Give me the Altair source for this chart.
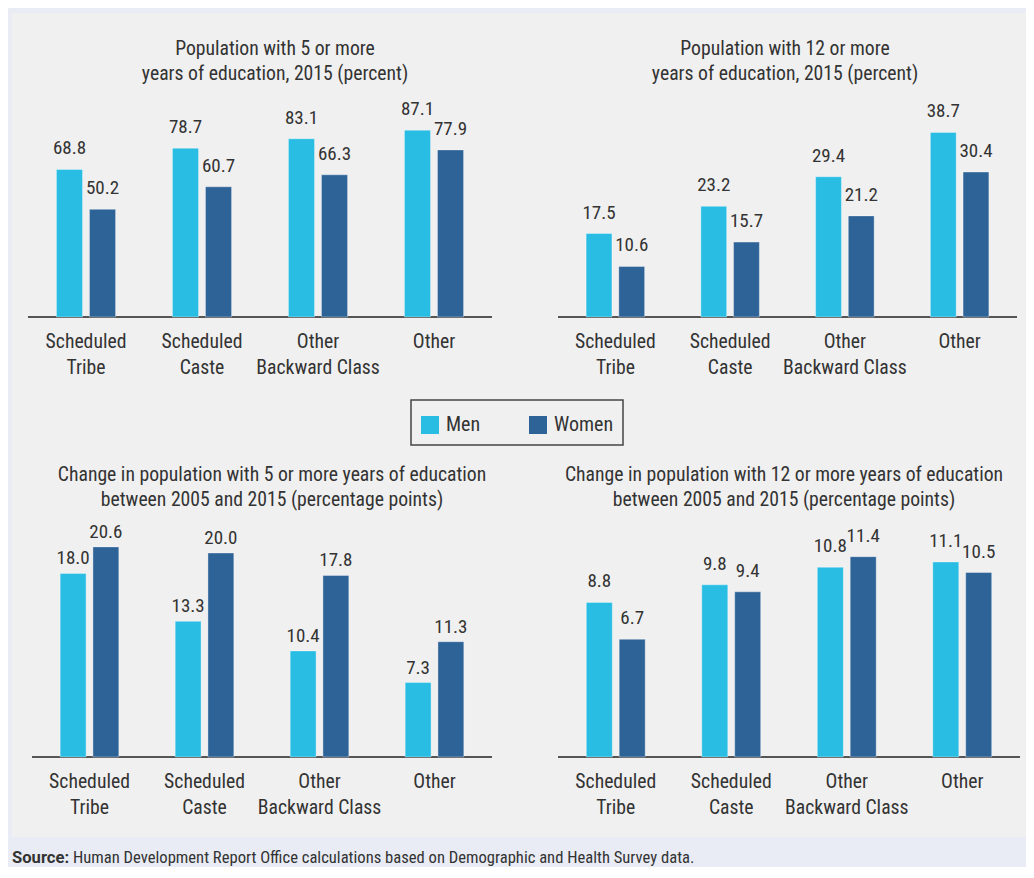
import altair as alt
import pandas as pd

# ---------------- data ----------------
categories = ["Scheduled Tribe", "Scheduled Caste", "Other Backward Class", "Other"]
cat_labels = ["Scheduled\nTribe", "Scheduled\nCaste", "Other\nBackward Class", "Other"]
genders = ["Men", "Women"]

men_5yr = [68.8, 78.7, 83.1, 87.1]
women_5yr = [50.2, 60.7, 66.3, 77.9]
men_12yr = [17.5, 23.2, 29.4, 38.7]
women_12yr = [10.6, 15.7, 21.2, 30.4]
men_chg5 = [18.0, 13.3, 10.4, 7.3]
women_chg5 = [20.6, 20.0, 17.8, 11.3]
men_chg12 = [8.8, 9.8, 10.8, 11.1]
women_chg12 = [6.7, 9.4, 11.4, 10.5]

titles = [
    "Population with 5 or more\nyears of education, 2015 (percent)",
    "Population with 12 or more\nyears of education, 2015 (percent)",
    "Change in population with 5 or more years of education\nbetween 2005 and 2015 (percentage points)",
    "Change in population with 12 or more years of education\nbetween 2005 and 2015 (percentage points)",
]
source_bold = "Source:"
source_text = "Human Development Report Office calculations based on Demographic and Health Survey data."

# ---------------- style ----------------
FONT = "Roboto Condensed, Liberation Sans Narrow, DejaVu Sans Condensed, sans-serif"
TXT = "#333333"
PAGE_BG = "#e9ecf4"
PANEL_BG = "#f0f0f0"
MEN_C = "#29bde3"
WOMEN_C = "#2e6398"
FS = 19.7

color_scale = alt.Scale(domain=genders, range=[MEN_C, WOMEN_C])
one = pd.DataFrame({"k": [0]})


def panel(men, women, title, W, H, xr, base, ymax, pxu, dy, tx, ty):
    df = pd.DataFrame({
        "category": categories * 2,
        "gender": ["Men"] * 4 + ["Women"] * 4,
        "value": men + women,
    })
    lab = pd.DataFrame({"category": categories, "label": cat_labels})
    xs = alt.Scale(domain=categories, range=xr, paddingInner=0, paddingOuter=0)
    ys = alt.Scale(domain=[0, ymax], range=[base, base - ymax * pxu], nice=False)
    xo = alt.XOffset("gender:N", sort=genders,
                     scale=alt.Scale(domain=genders, paddingInner=0.21, paddingOuter=0.86))

    bg = alt.Chart(one).mark_rect(color=PANEL_BG).encode(
        x=alt.value(0), x2=alt.value(W), y=alt.value(0), y2=alt.value(H))
    bars = alt.Chart(df).mark_bar(stroke="#ffffff", strokeOpacity=0.35, strokeWidth=1).encode(
        x=alt.X("category:N", sort=categories, scale=xs, axis=None),
        xOffset=xo,
        y=alt.Y("value:Q", scale=ys, axis=None),
        color=alt.Color("gender:N", scale=color_scale, legend=None),
    )
    vals = alt.Chart(df).mark_text(
        baseline="alphabetic", align="center", dy=-dy, font=FONT, fontSize=19, color=TXT
    ).encode(
        x=alt.X("category:N", sort=categories, scale=xs, axis=None),
        xOffset=xo,
        y=alt.Y("value:Q", scale=ys, axis=None),
        text=alt.Text("value:Q", format=".1f"),
    )
    rule = alt.Chart(one).mark_rule(color="#555555", strokeWidth=2).encode(
        x=alt.value(xr[0]), x2=alt.value(xr[1]), y=alt.value(base))
    cats = alt.Chart(lab).mark_text(
        baseline="alphabetic", align="center", lineBreak="\n", lineHeight=26,
        font=FONT, fontSize=FS, color=TXT
    ).encode(
        x=alt.X("category:N", sort=categories, scale=xs, axis=None),
        y=alt.value(base + 31),
        text="label:N",
    )
    ttl = alt.Chart(one).mark_text(
        baseline="alphabetic", align="center", lineBreak="\n", lineHeight=25,
        font=FONT, fontSize=FS, color=TXT
    ).encode(x=alt.value(tx), y=alt.value(ty), text=alt.value(title))
    return alt.layer(bg, rule, bars, vals, cats, ttl).properties(width=W, height=H)


LEFT_W, RIGHT_W, ROW_H = 508, 506, 382
tl = panel(men_5yr, women_5yr, titles[0], LEFT_W, ROW_H, [16, 480], 304, 100, 2.145, 15, 263, 42)
tr = panel(men_12yr, women_12yr, titles[1], RIGHT_W, ROW_H, [38, 497], 304, 40, 4.77, 15, 265, 42)
bl = panel(men_chg5, women_chg5, titles[2], LEFT_W, ROW_H, [20, 480], 302, 25, 10.2, 9, 260, 26)
br = panel(men_chg12, women_chg12, titles[3], RIGHT_W, ROW_H, [38, 500], 302, 12, 17.57, 15, 264, 26)

res = dict(x="independent", y="independent", xOffset="independent")
top = alt.hconcat(tl, tr, spacing=0, bounds="flush").resolve_scale(**res)
bottom = alt.hconcat(bl, br, spacing=0, bounds="flush").resolve_scale(**res)

# ---------------- legend row ----------------
leg_df = pd.DataFrame({"gender": genders})
LW, LH = LEFT_W + RIGHT_W, 60
leg_bg = alt.Chart(one).mark_rect(color=PANEL_BG).encode(
    x=alt.value(0), x2=alt.value(LW), y=alt.value(0), y2=alt.value(LH))
leg_box = alt.Chart(one).mark_rect(fillOpacity=0, stroke="#444444", strokeWidth=1.5).encode(
    x=alt.value(399), x2=alt.value(611), y=alt.value(5), y2=alt.value(50))
lx = alt.X("gender:N", sort=genders,
           scale=alt.Scale(type="point", domain=genders, range=[418, 526], padding=0), axis=None)
leg_sq = alt.Chart(leg_df).mark_square(size=324, opacity=1).encode(
    x=lx, y=alt.value(30), color=alt.Color("gender:N", scale=color_scale, legend=None))
leg_tx = alt.Chart(leg_df).mark_text(
    align="left", baseline="middle", dx=16, font=FONT, fontSize=20, color=TXT
).encode(x=lx, y=alt.value(30), text="gender:N")
legend_row = alt.layer(leg_bg, leg_box, leg_sq, leg_tx).properties(width=LW, height=LH)

# ---------------- source row ----------------
src1 = alt.Chart(one).mark_text(
    align="left", baseline="alphabetic", font="Roboto, Open Sans, sans-serif",
    fontSize=16.6, fontWeight="bold", color=TXT
).encode(x=alt.value(0), y=alt.value(26), text=alt.value(source_bold))
src2 = alt.Chart(one).mark_text(
    align="left", baseline="alphabetic", font=FONT, fontSize=16.6, color=TXT
).encode(x=alt.value(61), y=alt.value(26), text=alt.value(source_text))
source_row = alt.layer(src1, src2).properties(width=LW, height=29)

chart = alt.vconcat(top, legend_row, bottom, source_row, spacing=0).properties(
    background=PAGE_BG,
    padding={"left": 4, "top": 5, "right": 0, "bottom": 0},
).configure_view(stroke=None).configure_concat(spacing=0)

chart.save("out.html", embed_options={"renderer": "svg", "actions": False})
